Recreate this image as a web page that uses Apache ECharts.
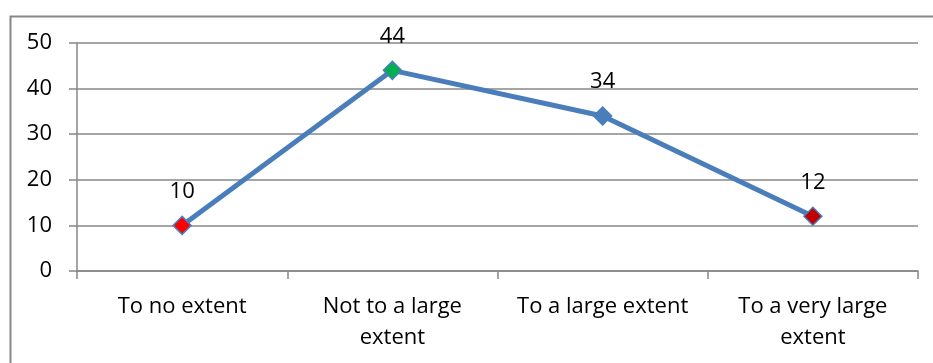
<!DOCTYPE html>
<html>
<head>
<meta charset="utf-8">
<script src="https://cdn.jsdelivr.net/npm/echarts@6/dist/echarts.min.js"></script>
<style>
  html, body { margin: 0; padding: 0; background: #fff; }
  #chart { width: 933px; height: 363px; }
</style>
</head>
<body>
<div id="chart"></div>
<script>
// Responses per extent level
var categories = ['To no extent', 'Not to a large\nextent', 'To a large extent', 'To a very large\nextent'];
var values = [10, 44, 34, 12];
var markerColors = ['#FF0000', '#00B050', '#4A7EBB', '#C00000'];
var yTicks = [0, 10, 20, 30, 40, 50];

var FONT = '"Open Sans", sans-serif';
var GREY = '#878787';
var LINE = '#4A7EBB';

var chart = echarts.init(document.getElementById('chart'), null, { renderer: 'canvas' });

chart.setOption({
  animation: false,
  backgroundColor: '#ffffff',
  graphic: [{
    type: 'rect',
    left: 8, top: 14,
    shape: { width: 1200, height: 1200 },
    style: { fill: 'none', stroke: GREY, lineWidth: 2 },
    silent: true,
    z: 0
  }],
  grid: { left: 77, right: 15, top: 43, bottom: 92, containLabel: false },
  xAxis: {
    type: 'category',
    data: categories,
    boundaryGap: true,
    axisLine: { show: true, lineStyle: { color: GREY, width: 1.5 } },
    axisTick: { show: true, length: 8, lineStyle: { color: GREY, width: 1.5 } },
    axisLabel: {
      margin: 20,
      color: '#000',
      fontFamily: FONT,
      fontSize: 22,
      lineHeight: 31,
      interval: 0
    },
    splitLine: { show: false }
  },
  yAxis: {
    type: 'value',
    min: yTicks[0],
    max: yTicks[yTicks.length - 1],
    interval: 10,
    axisLine: { show: true, lineStyle: { color: GREY, width: 1.5 } },
    axisTick: { show: true, length: 8, lineStyle: { color: GREY, width: 1.5 } },
    axisLabel: { margin: 25, color: '#000', fontFamily: FONT, fontSize: 22 },
    splitLine: { show: true, lineStyle: { color: GREY, width: 1.5 } }
  },
  series: [{
    type: 'line',
    data: values.map(function (v, i) {
      return { value: v, itemStyle: { color: markerColors[i], borderColor: LINE, borderWidth: 1.5 } };
    }),
    symbol: 'diamond',
    symbolSize: 18,
    lineStyle: { color: LINE, width: 5 },
    label: {
      show: true,
      position: 'top',
      distance: 13,
      color: '#000',
      fontFamily: FONT,
      fontSize: 22
    },
    z: 3
  }]
});
</script>
</body>
</html>
